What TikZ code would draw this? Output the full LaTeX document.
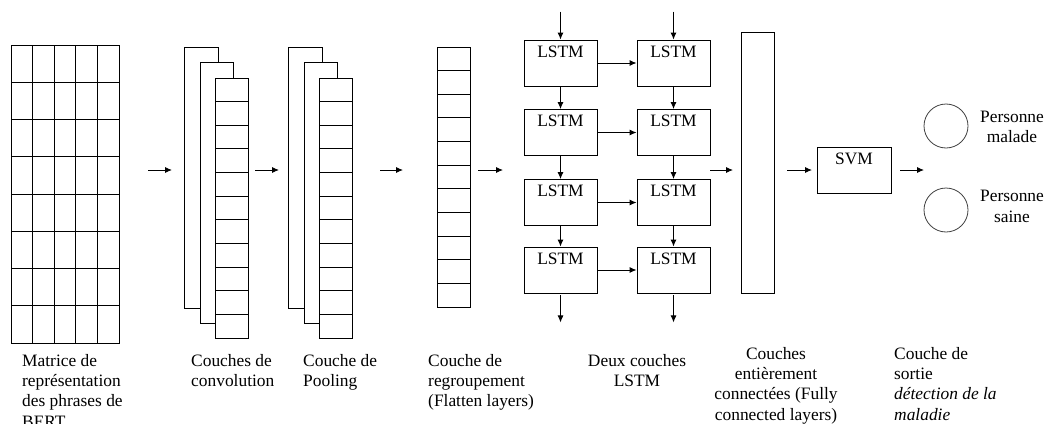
\documentclass[tikz,border=0pt]{standalone}
\usepackage{fontspec}
\setmainfont{Liberation Serif}
\usetikzlibrary{arrows.meta,positioning}

\tikzset{
  fleche/.style={-{Latex[length=7pt,width=6pt]}, line width=0.9pt},
  cellule/.style={draw, line width=0.9pt},
  couche/.style={draw, fill=white, line width=0.9pt},
  boite/.style={draw, line width=0.9pt, minimum width=73pt, minimum height=46pt, inner sep=0pt},
  texte/.style={font=\fontsize{17.4}{20.3}\selectfont, inner sep=0pt},
}

\begin{document}
\begin{tikzpicture}[x=1pt,y=-1pt]
    \useasboundingbox (0,0) rectangle (1046,423);
    \clip (0,0) rectangle (1046,423);

    % Matrice de représentation (5 colonnes, 8 lignes)
    \pgfmathsetmacro{\cw}{108/5}
    \pgfmathsetmacro{\rh}{298/8}
    \foreach \i in {0,...,4} {
        \foreach \j in {0,...,7} {
            \draw[cellule] (11+\i*\cw,45+\j*\rh) rectangle ++(\cw,\rh);
        }
    }

    % Couches de convolution et de pooling (trois feuilles empilées)
    \pgfmathsetmacro{\ch}{260/11}
    \foreach \x in {184,288} {
        \draw[couche] (\x,47) rectangle ++(34,261);
        \draw[couche] (\x+16,62) rectangle ++(33,261);
        \foreach \k in {0,...,10} {
            \draw[couche] (\x+31,78+\k*\ch) rectangle ++(33,\ch);
        }
    }

    % Couche de regroupement (flatten)
    \foreach \k in {0,...,10} {
        \draw[cellule] (437,47+\k*\ch) rectangle ++(33,\ch);
    }

    % Deux couches LSTM
    \foreach \r/\y in {1/63,2/132.5,3/202.5,4/270} {
        \node[boite, label={[anchor=north,yshift=-6pt,texte]north:LSTM}] (l\r1) at (560.5,\y) {};
        \node[boite, label={[anchor=north,yshift=-6pt,texte]north:LSTM}] (l\r2) at (673.5,\y) {};
        \draw[fleche] (l\r1) -- (l\r2);
    }
    \foreach \r/\s in {1/2,2/3,3/4} {
        \foreach \c in {1,2} {
            \draw[fleche] (l\r\c) -- (l\s\c);
        }
    }
    \foreach \c in {1,2} {
        \path (l1\c.north) ++(0,-28) coordinate (in\c);
        \draw[fleche] (in\c) -- (l1\c.north);
        \path (l4\c.south) ++(0,2) coordinate (out\c) ++(0,27) coordinate (fin\c);
        \draw[fleche] (out\c) -- (fin\c);
    }

    % Couches entièrement connectées, SVM et sortie
    \node[draw, line width=0.9pt, minimum width=33pt, minimum height=261pt, inner sep=0pt] (fc) at (757.5,162.5) {};
    \node[boite, minimum width=74pt, label={[anchor=north,yshift=-6pt,texte]north:SVM}] (svm) at (854,170) {};
    \node[draw=black!75, line width=0.8pt, circle, minimum size=44pt] (malade) at (946,126) {};
    \node[draw=black!75, line width=0.8pt, circle, minimum size=44pt] (saine) at (946,210) {};
    \node[texte, align=center] (tmalade) at (1012,127) {Personne\\malade};
    \node[texte, align=center] (tsaine) at (1012,206.5) {Personne\\saine};

    % Flèches entre les couches
    \foreach \a/\b [count=\k] in {148/172,255/279,380/403,478/503,710/733,787/812,900/924} {
        \coordinate (d\k) at (\a,170);
        \coordinate (f\k) at (\b,170);
        \draw[fleche] (d\k) -- (f\k);
    }

    % Légendes
    \node[texte, align=left, anchor=north west] (lmat) at (22,354) {Matrice de\\représentation\\des phrases de\\BERT};
    \node[texte, align=left, anchor=north west] (lconv) at (191,354) {Couches de\\convolution};
    \node[texte, align=left, anchor=north west] (lpool) at (303,354) {Couche de\\Pooling};
    \node[texte, align=left, anchor=north west] (lflat) at (428,354) {Couche de\\regroupement\\(Flatten layers)};
    \node[texte, align=center, anchor=north] (llstm) at (637,354) {Deux couches\\LSTM};
    \node[texte, align=center, anchor=north] (lfc) at (776,347) {Couches\\entièrement\\connectées (Fully\\connected layers)};
    \node[texte, align=left, anchor=north west] (lsortie) at (894,347) {Couche de\\sortie\\\textit{détection de la}\\\textit{maladie}};
\end{tikzpicture}
\end{document}
